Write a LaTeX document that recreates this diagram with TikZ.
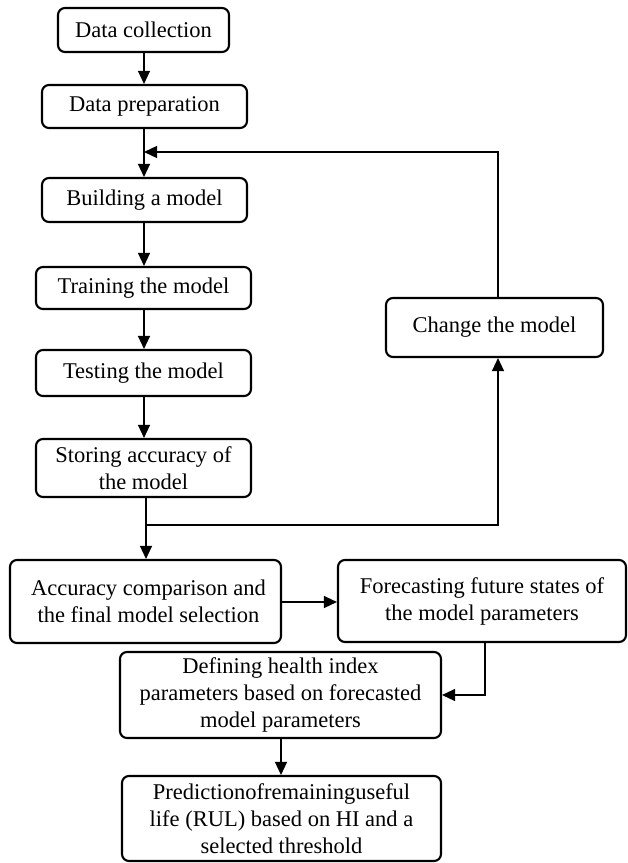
\documentclass[tikz,border=0pt]{standalone}
\usepackage{fontspec}
\setmainfont{Liberation Serif}
\usetikzlibrary{arrows.meta}
\begin{document}
\begin{tikzpicture}[x=1pt,y=-1pt,
  box/.style={draw,line width=2.1pt,rounded corners=7pt,inner sep=0pt,align=center,
    font=\fontsize{22.5}{27}\selectfont},
  conn/.style={line width=1.3pt,-{Triangle[length=13pt,width=12pt]}},
  plain/.style={line width=1.3pt}]
\useasboundingbox (0,0) rectangle (628,863);
% main column of steps
\node[box,minimum width=171pt,minimum height=44pt] (collect) at (143.5,30) {Data collection};
\node[box,minimum width=205pt,minimum height=43pt] (prep) at (144.5,106.5) {Data preparation};
\node[box,minimum width=205pt,minimum height=44pt] (build) at (144.5,200) {Building a model};
\node[box,minimum width=215pt,minimum height=42pt] (train) at (143.5,288) {Training the model};
\node[box,minimum width=215pt,minimum height=46pt] (test) at (143.5,373) {Testing the model};
\node[box,minimum width=215pt,minimum height=58pt] (store) at (143.5,468) {Storing accuracy of\\the model};
\node[box,minimum width=217pt,minimum height=59pt] (change) at (494.5,327.5) {Change the model};
\node[box,minimum width=271pt,minimum height=83pt] (compare) at (145.5,601.5) {\hspace*{6pt}Accuracy comparison and\\\hspace*{6pt}the final model selection};
\node[box,minimum width=288pt,minimum height=82pt] (forecast) at (482,601) {Forecasting future states of\\the model parameters};
\node[box,minimum width=321pt,minimum height=86pt] (health) at (280.5,695) {Defining health index\\parameters based on forecasted\\model parameters};
\node[box,minimum width=319pt,minimum height=85pt] (rul) at (281.5,818.5) {Predictionofremaininguseful\\life (RUL) based on HI and a\\selected threshold};
% junction points
\coordinate (join) at (144,152);
\coordinate (split) at (146,525);
% connectors
\draw[conn] (collect.south -| join) -- (prep.north -| join);
\draw[conn] (prep.south -| join) -- (build.north -| join);
\draw[conn] (change.north -| 498,0) -- (498,152) -- (join);
\draw[conn] (build.south -| join) -- (train.north -| join);
\draw[conn] (train.south -| join) -- (test.north -| join);
\draw[conn] (test.south -| join) -- (store.north -| join);
\draw[conn] (store.south -| split) -- (compare.north -| split);
\draw[conn] (split) -- (498,525) -- (change.south -| 498,0);
\draw[conn] (compare.east |- 0,602) -- (forecast.west |- 0,602);
\draw[conn] (forecast.south -| 485,0) -- (485,695) -- (health.east);
\draw[conn] (health.south -| 281,0) -- (rul.north -| 281,0);
\end{tikzpicture}
\end{document}
